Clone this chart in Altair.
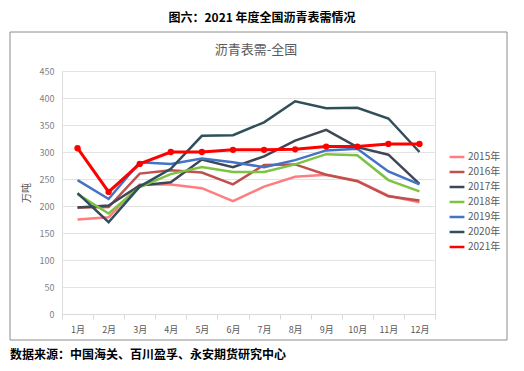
import altair as alt
import pandas as pd

months = ["1月", "2月", "3月", "4月", "5月", "6月", "7月", "8月", "9月", "10月", "11月", "12月"]
series_names = ["2015年", "2016年", "2017年", "2018年", "2019年", "2020年", "2021年"]
y2015 = [175, 179, 240, 240, 233, 209, 236, 254, 258, 247, 219, 207]
y2016 = [197, 198, 260, 266, 262, 240, 276, 277, 258, 246, 218, 210]
y2017 = [197, 201, 238, 244, 286, 272, 292, 321, 341, 309, 295, 241]
y2018 = [222, 186, 235, 259, 272, 263, 263, 277, 296, 294, 248, 227]
y2019 = [248, 213, 281, 278, 288, 281, 272, 285, 303, 306, 264, 240]
y2020 = [224, 170, 236, 269, 330, 331, 355, 394, 381, 382, 362, 300]
y2021 = [307, 226, 278, 300, 300, 304, 304, 305, 310, 310, 315, 315]
colors = ["#FF7C80", "#C0504D", "#3F4756", "#7DC242", "#4472C4", "#2F4F5A", "#FF0000"]
y_ticks = [0, 50, 100, 150, 200, 250, 300, 350, 400, 450]

all_vals = [y2015, y2016, y2017, y2018, y2019, y2020, y2021]
rows = []
for name, vals in zip(series_names, all_vals):
    for m, v in zip(months, vals):
        rows.append({"month": m, "series": name, "value": v})
df = pd.DataFrame(rows)

FONT = "Noto Sans CJK SC"

x_enc = alt.X("month:N", sort=months,
              scale=alt.Scale(type="band", paddingInner=0, paddingOuter=0),
              axis=alt.Axis(title=None, labelAngle=0, labelColor="#595959", labelFontSize=9,
                            labelFont=FONT, domainColor="#d9d9d9", tickColor="#d9d9d9",
                            tickBand="extent", tickSize=5, grid=False, labelPadding=6))
y_enc = alt.Y("value:Q", scale=alt.Scale(domain=[0, 450]),
              axis=alt.Axis(title="万吨", titleColor="#595959", titleFontSize=10, titleFont=FONT,
                            titleFontWeight="normal", titlePadding=8,
                            values=y_ticks, labelColor="#7f7f7f", labelFontSize=9, labelFont=FONT,
                            gridColor="#e3e3e3", domain=False, ticks=False, labelPadding=8))
color_enc = alt.Color("series:N", sort=series_names,
                      scale=alt.Scale(domain=series_names, range=colors),
                      legend=alt.Legend(title=None, orient="none", legendX=386, legendY=77,
                                        symbolType="stroke", symbolStrokeWidth=2.5, symbolSize=220,
                                        labelColor="#595959", labelFontSize=10, labelFont=FONT,
                                        rowPadding=1, labelOffset=2))

others = df[df["series"] != "2021年"]
cur = df[df["series"] == "2021年"]

lines = alt.Chart(others).mark_line(strokeWidth=2.5).encode(x=x_enc, y=y_enc, color=color_enc)
red_line = alt.Chart(cur).mark_line(strokeWidth=3).encode(x=x_enc, y=y_enc, color=color_enc)
red_pts = alt.Chart(cur).mark_point(filled=True, size=40, opacity=1).encode(
    x=x_enc, y=y_enc,
    color=alt.Color("series:N", scale=alt.Scale(domain=series_names, range=colors), legend=None))

box = alt.Chart(pd.DataFrame({"a": [0]})).mark_rect(fill=None, stroke="#8c8c8c", strokeWidth=1).encode(
    x=alt.value(-52), x2=alt.value(445), y=alt.value(-39), y2=alt.value(269))

main_title = alt.Chart(pd.DataFrame({"t": ["图六：2021 年度全国沥青表需情况"]})).mark_text(
    font=FONT, fontSize=12, fontWeight="bold", color="#000000", align="center", baseline="middle").encode(
    text="t:N", x=alt.value(200), y=alt.value(-53))
sub_title = alt.Chart(pd.DataFrame({"t": ["沥青表需-全国"]})).mark_text(
    font=FONT, fontSize=13, color="#595959", align="center", baseline="middle").encode(
    text="t:N", x=alt.value(194), y=alt.value(-21))
footer = alt.Chart(pd.DataFrame({"t": ["数据来源：中国海关、百川盈孚、永安期货研究中心"]})).mark_text(
    font=FONT, fontSize=12, fontWeight="bold", color="#000000", align="left", baseline="middle").encode(
    text="t:N", x=alt.value(-52), y=alt.value(284))

chart = alt.layer(box, lines, red_line, red_pts, main_title, sub_title, footer).properties(
    width=373, height=243,
    autosize=alt.AutoSizeParams(type="none"),
    padding={"left": 54, "top": 63, "right": 79, "bottom": 54},
).configure_view(stroke=None).configure(background="white")

chart.save("out.html", embed_options={"renderer": "svg", "actions": False})
